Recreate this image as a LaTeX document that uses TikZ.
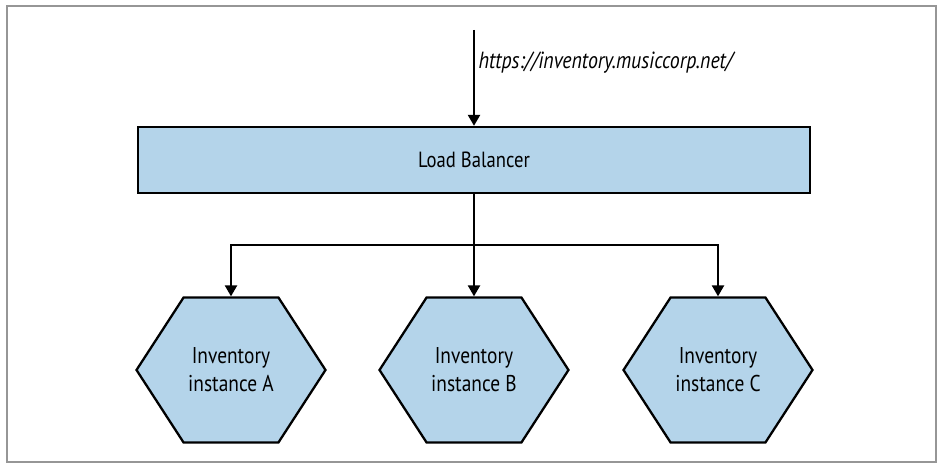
\documentclass[tikz,border=0pt]{standalone}
\usepackage{fontspec}
\setmainfont{PT Sans}[FakeStretch=0.85]
\usetikzlibrary{arrows.meta, shapes.symbols, positioning}
\definecolor{lbblue}{RGB}{180,212,234}
\definecolor{framegray}{RGB}{150,150,150}

\begin{document}
\begin{tikzpicture}[
    link/.style={line width=1.3pt, -{Triangle[length=0.22cm, width=0.24cm]}},
    balancer/.style={draw=black, line width=1.3pt, fill=lbblue, minimum width=13.44cm, minimum height=1.32cm},
    instance/.style={signal, signal to=west and east, signal from=nowhere, signal pointer angle=114,
      draw=black, line width=1.3pt, fill=lbblue, minimum width=3.78cm, minimum height=2.9cm,
      inner sep=0pt, align=center, font=\fontsize{13}{16}\selectfont}
  ]
    \useasboundingbox (0,0) rectangle (18.88,9.44);
    \draw[framegray, line width=0.8pt] (0.14,0.2) rectangle (18.72,9.32);

    \node[balancer, font=\fontsize{12.5}{14}\selectfont] (lb) at (9.48,6.24) {Load Balancer};
    \coordinate (client) at (9.48,8.84);
    \coordinate (split) at (9.48,4.54);

    \node[instance] (instA) at (4.62,2.04) {Inventory\\instance A};
    \node[instance] (instB) at (9.48,2.04) {Inventory\\instance B};
    \node[instance] (instC) at (14.36,2.04) {Inventory\\instance C};

    \draw[link] (client) -- node[pos=0.34, right, inner sep=2pt, font=\fontsize{13.3}{15}\selectfont\itshape] (url) {https://inventory.musiccorp.net/} (lb.north);
    \draw[link] (lb.south) -- (instB.north);
    \draw[link] (split) -| (instA.north);
    \draw[link] (split) -| (instC.north);
\end{tikzpicture}
\end{document}
